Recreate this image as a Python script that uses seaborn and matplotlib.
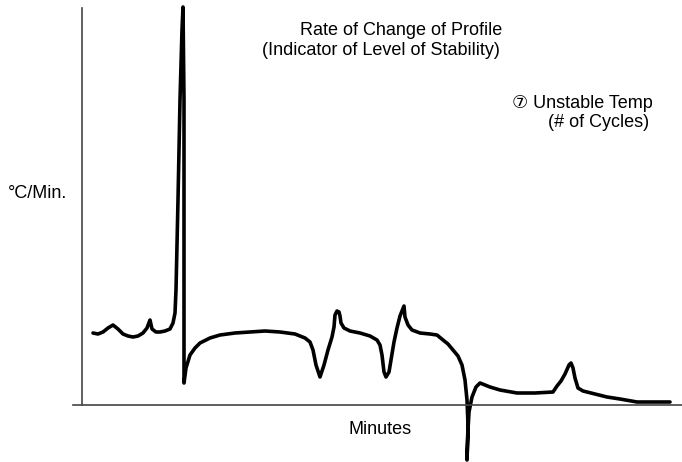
"""Rate of change of a temperature profile: unstable temperature sketch."""

import matplotlib

matplotlib.use("Agg")

import matplotlib.pyplot as plt
import pandas as pd
import seaborn as sns


OUTPUT_FILE = "out.png"

# minutes from the start of the profile (arbitrary scale, no ticks shown)
minutes = [
    11, 16, 21, 26, 31, 36, 41, 46, 51, 56, 61, 65, 68, 70, 74, 78, 83, 88, 91, 93,
    94, 96, 98, 100, 101, 102, 102, 102,
    104, 108, 113, 118, 128, 138, 153, 168, 183, 198, 213, 223, 228,
    231, 234, 238, 242, 246, 250, 252, 253, 255, 257, 258, 259, 262, 268, 278, 288, 295,
    298, 300, 302, 304, 307, 309, 312, 315, 318, 322, 323, 326, 330, 338, 348, 355,
    361, 366, 371, 376, 380, 383, 385, 386, 385, 386, 387, 390, 394, 398,
    403, 408, 418, 435, 453, 471, 475, 479, 483, 487, 489, 491, 493, 496, 501, 513,
    525, 538, 555, 573, 588,
]

# rate of change of the profile, degC / min (arbitrary scale)
rate = [
    72, 71, 73, 77, 80, 76, 71, 69, 68, 69, 72, 77, 85, 76, 73, 73, 74, 76, 82, 92,
    115, 205, 305, 375, 398, 305, 155, 22,
    37, 50, 57, 62, 67, 70, 72, 73, 74, 73, 71, 67, 63,
    55, 40, 28, 40, 55, 68, 78, 90, 94, 93, 89, 82, 77, 74, 72, 69, 65,
    60, 50, 33, 28, 33, 45, 63, 77, 89, 99, 88, 80, 75, 72, 71, 70,
    65, 61, 55, 49, 40, 25, 5, -20, -55, -25, -7, 8, 18, 22,
    20, 18, 15, 12, 12, 13, 19, 24, 31, 40, 42, 37, 27, 17, 14, 11,
    8, 6, 3, 3, 3,
]

TITLE_LINES = ["Rate of Change of Profile", "(Indicator of Level of Stability)"]
NOTE_LINES = ["\u2466 Unstable Temp", "(# of Cycles)"]
X_LABEL = "Minutes"
Y_LABEL = "\u00b0C/Min."


def main() -> None:
    sns.set_theme(style="white")
    plt.rcParams["font.family"] = ["Liberation Sans", "DejaVu Sans"]

    df = pd.DataFrame({"minutes": minutes, "rate": rate})

    W, H = 682, 462
    fig = plt.figure(figsize=(W / 100, H / 100), dpi=100)
    ax = fig.add_axes([73 / W, 57 / H, (W - 73) / W, 397 / H])

    sns.lineplot(
        data=df,
        x="minutes",
        y="rate",
        sort=False,
        estimator=None,
        color="black",
        linewidth=2.6,
        clip_on=False,
        solid_joinstyle="round",
        solid_capstyle="round",
        ax=ax,
    )

    ax.set_xlim(-9, 600)
    ax.set_ylim(0, 397)
    ax.set_xticks([])
    ax.set_yticks([])
    ax.set_xlabel("")
    ax.set_ylabel("")

    for side in ["top", "right"]:
        ax.spines[side].set_visible(False)
    ax.spines["left"].set_position(("data", 0))
    for side in ["left", "bottom"]:
        ax.spines[side].set_color("#444444")
        ax.spines[side].set_linewidth(1.2)

    def put(text, x_px, y_px):
        fig.text(x_px / W, 1 - y_px / H, text, fontsize=13, color="black",
                 ha="left", va="baseline")

    put(TITLE_LINES[0], 300, 35)
    put(TITLE_LINES[1], 262, 55)
    put(NOTE_LINES[0], 512, 108)
    put(NOTE_LINES[1], 548, 127)
    put(X_LABEL, 348, 434)
    put(Y_LABEL, 8, 198)

    fig.savefig(OUTPUT_FILE, dpi=100)
    plt.close(fig)


if __name__ == "__main__":
    main()
